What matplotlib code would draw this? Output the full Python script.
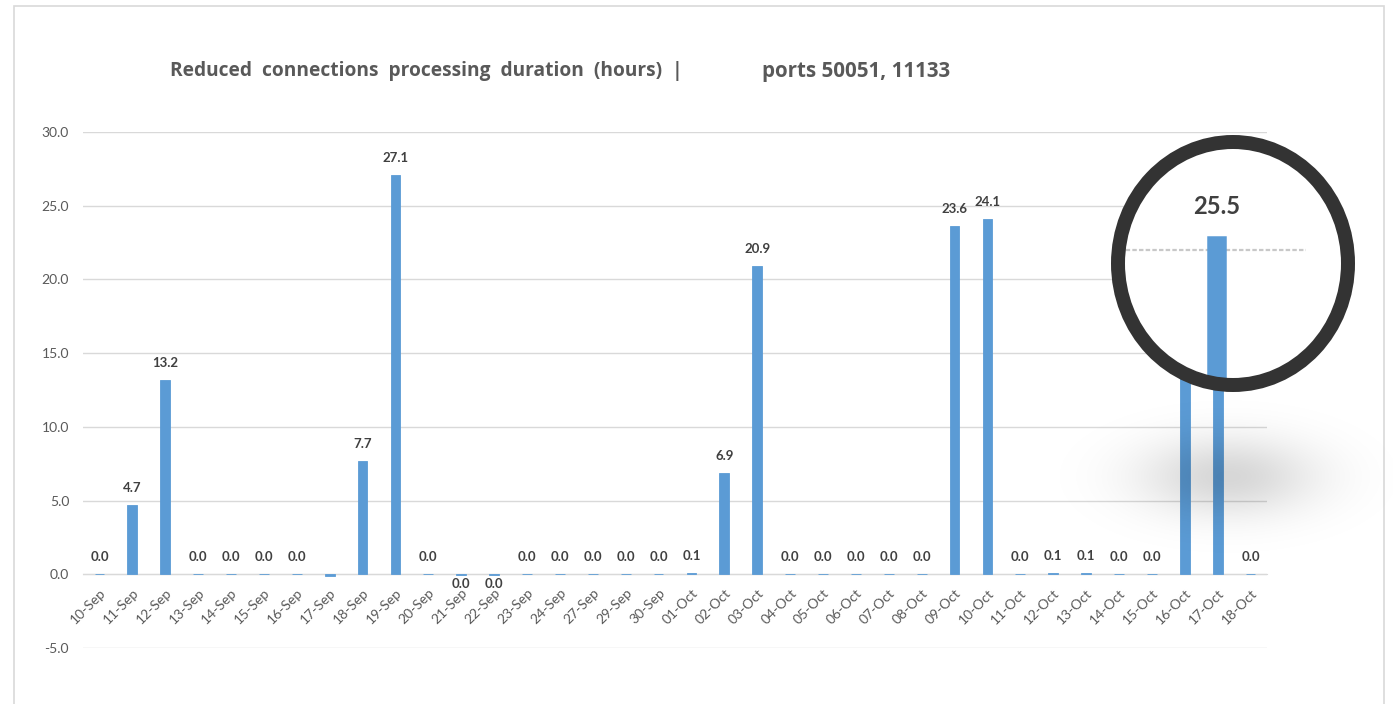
import numpy as np
import matplotlib
matplotlib.use("Agg")
import matplotlib.pyplot as plt
from matplotlib.patches import Ellipse, Rectangle

# ---- data -------------------------------------------------------------
dates = ["10-Sep", "11-Sep", "12-Sep", "13-Sep", "14-Sep", "15-Sep", "16-Sep",
         "17-Sep", "18-Sep", "19-Sep", "20-Sep", "21-Sep", "22-Sep", "23-Sep",
         "24-Sep", "27-Sep", "29-Sep", "30-Sep",
         "01-Oct", "02-Oct", "03-Oct", "04-Oct", "05-Oct", "06-Oct", "07-Oct",
         "08-Oct", "09-Oct", "10-Oct", "11-Oct", "12-Oct", "13-Oct", "14-Oct",
         "15-Oct", "16-Oct", "17-Oct", "18-Oct"]
hours = [0.0, 4.7, 13.2, 0.0, 0.0, 0.0, 0.0, -0.15, 7.7, 27.1, 0.0, -0.04,
         -0.04, 0.0, 0.0, 0.0, 0.0, 0.0,
         0.1, 6.9, 20.9, 0.0, 0.0, 0.0, 0.0, 0.0, 23.6, 24.1, 0.0, 0.1, 0.06,
         0.0, 0.0, 18.0, 25.5, 0.0]
unlabeled = ["17-Sep"]
y_ticks = [-5, 0, 5, 10, 15, 20, 25, 30]
focus_date = "17-Oct"

title_left = "Reduced  connections  processing  duration  (hours)  |"
title_right = "ports 50051, 11133"

# ---- style ------------------------------------------------------------
BAR = "#5B9BD5"
GRID = "#D9D9D9"
TXT = "#595959"
LBL = "#404040"
FONT = ["Lato", "DejaVu Sans"]
plt.rcParams["font.family"] = FONT

W, H = 1393, 704
fig = plt.figure(figsize=(W / 100, H / 100), dpi=100)
fig.patch.set_facecolor("white")


def fx(px):
    return px / W


def fy(py):
    return 1 - py / H


# outer chart frame
fig.patches.append(Rectangle((fx(14), -0.05), fx(1384) - fx(14), fy(6) + 0.05,
                             transform=fig.transFigure, fill=False,
                             edgecolor=GRID, lw=1.2, zorder=0))

x = np.arange(len(dates))
BAR_W = 0.3


def label_text(v):
    s = f"{v:.1f}"
    return "0.0" if s == "-0.0" else s


def draw_bars(ax, scale=1.0, clip=None):
    bars = ax.bar(x, hours, width=BAR_W, color=BAR, edgecolor=BAR,
                  linewidth=0.6 * scale, zorder=3)
    texts = []
    for xi, v, d in zip(x, hours, dates):
        if d in unlabeled:
            continue
        off = -9.5 * scale if v < 0 else 17 * scale
        t = ax.annotate(label_text(v), (xi, v), xytext=(0, off * 0.72),
                        textcoords="offset points", ha="center", va="center",
                        fontsize=9.5 * scale, fontweight="bold", color=LBL,
                        zorder=4)
        texts.append(t)
    if clip is not None:
        for b in bars:
            b.set_clip_path(clip)
        for t in texts:
            t.set_clip_path(clip)
    return bars


# ---- main chart -------------------------------------------------------
ax = fig.add_axes([fx(83), fy(648), fx(1267) - fx(83), fy(132) - fy(648)])
ax.set_xlim(-0.5, len(dates) - 0.5)
ax.set_ylim(-5, 30)
for yv in y_ticks:
    ax.axhline(yv, color=GRID, lw=1.0, zorder=1)
draw_bars(ax)
ax.set_yticks(y_ticks)
ax.set_yticklabels([f"{v:.1f}" for v in y_ticks])
ax.set_xticks(x)
ax.set_xticklabels(dates)
for side in ["left", "right", "top"]:
    ax.spines[side].set_visible(False)
ax.spines["bottom"].set_position(("data", 0))
ax.spines["bottom"].set_color(GRID)
ax.tick_params(axis="both", length=0, colors=TXT, labelsize=10)
ax.tick_params(axis="y", pad=10)
ax.tick_params(axis="x", pad=9)
plt.setp(ax.get_xticklabels(), rotation=45, ha="right",
         rotation_mode="anchor")
ax.set_facecolor("none")
ax.set_zorder(1)

fig.text(fx(170), fy(71), title_left, ha="left", va="center",
         fontsize=13.8, fontweight="bold", color=TXT,
         family=["Open Sans", "DejaVu Sans"])
fig.text(fx(762), fy(71), title_right, ha="left", va="center",
         fontsize=14.8, fontweight="bold", color=TXT,
         family=["Open Sans", "DejaVu Sans"])

# ---- soft shadow below the magnifier ----------------------------------
sh = fig.add_axes([0, 0, 1, 1])
sh.set_xlim(0, W)
sh.set_ylim(H, 0)
sh.axis("off")
gx, gy = np.meshgrid(np.arange(W), np.arange(H))
alpha = 0.16 * np.exp(-(((gx - 1228) / 62.0) ** 2 + ((gy - 476) / 28.0) ** 2) / 2)
rgba = np.zeros((H, W, 4))
rgba[..., 3] = alpha
sh.imshow(rgba, extent=(0, W, H, 0), interpolation="bilinear", zorder=0)
sh.set_zorder(2)

# ---- magnifier --------------------------------------------------------
mx0, mx1, my0, my1 = 1111, 1355, 135, 392
ax_m = fig.add_axes([fx(mx0), fy(my1), fx(mx1) - fx(mx0), fy(my0) - fy(my1)])
ax_m.set_zorder(3)
ax_m.axis("off")
mag = 1.8
px_per_cat = (1184 / len(dates)) * mag
px_per_unit = (516 / 35.0) * mag
i_focus = dates.index(focus_date)
v_focus = hours[i_focus]
cx_px, top_px = 1217, 237
ax_m.set_xlim(i_focus - (cx_px - mx0) / px_per_cat,
              i_focus + (mx1 - cx_px) / px_per_cat)
ax_m.set_ylim(v_focus - (my1 - top_px) / px_per_unit,
              v_focus + (top_px - my0) / px_per_unit)

ring_px = 14
rw = 1 - ring_px / (mx1 - mx0)
rh = 1 - ring_px / (my1 - my0)
lens = Ellipse((0.5, 0.5), rw, rh, transform=ax_m.transAxes,
               facecolor="white", edgecolor="none", zorder=0)
ax_m.add_patch(lens)
for yv in y_ticks:
    ln = ax_m.hlines(yv, -0.5, len(dates) - 0.5, color="#C8C8C8",
                     lw=1.6, linestyles=(0, (2, 1)), zorder=1)
    ln.set_clip_path(lens)
draw_bars(ax_m, scale=mag, clip=lens)
ring = Ellipse((0.5, 0.5), rw, rh, transform=ax_m.transAxes,
               facecolor="none", edgecolor="#333333", lw=ring_px * 0.72,
               zorder=6, clip_on=False)
ax_m.add_patch(ring)

fig.savefig("out.png", dpi=100)
